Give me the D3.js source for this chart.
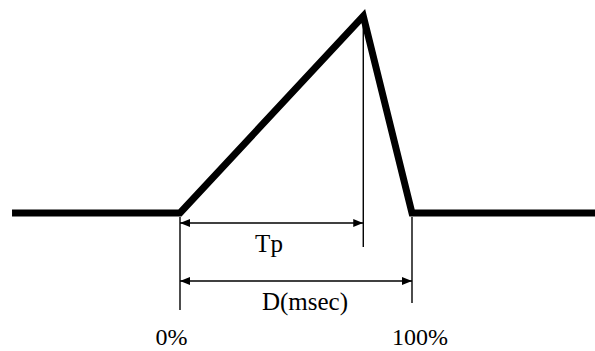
<!DOCTYPE html>
<html><head><meta charset="utf-8">
<script src="https://cdn.jsdelivr.net/npm/d3@7"></script>
<style>body{margin:0;background:#fff}svg{display:block}</style>
</head><body>
<script>
// waveform: time in % of D, amplitude normalized
const waveTime = [-72.4, 0, 79.0, 100, 179];
const waveAmp  = [0, 0, 1, 0, 0];
const tpPercent = 79.0;
const dPercent = 100;
const tickLabels = ["0%", "100%"];
const tickPos = [0, 100];
const dimLabels = ["Tp", "D(msec)"];

const W = 595, H = 351;
const svg = d3.select("body").append("svg").attr("width", W).attr("height", H);
const x = d3.scaleLinear().domain([0, 100]).range([180, 412]);
const y = d3.scaleLinear().domain([0, 1]).range([213, 16]);

const defs = svg.append("defs");
defs.append("marker").attr("id","ah").attr("viewBox","0 0 10 8")
  .attr("refX",10).attr("refY",4).attr("markerWidth",10).attr("markerHeight",8)
  .attr("markerUnits","userSpaceOnUse").attr("orient","auto-start-reverse")
  .append("path").attr("d","M0,0L10,4L0,8Z").attr("fill","#000");

// vertical reference lines
const vlines = [
  {t: 0, y1: 217, y2: 310},
  {t: tpPercent, y1: y(1), y2: 247},
  {t: dPercent, y1: 217, y2: 303}
];
svg.selectAll("line.v").data(vlines).join("line").attr("class","v")
  .attr("x1", d => x(d.t)).attr("x2", d => x(d.t))
  .attr("y1", d => d.y1).attr("y2", d => d.y2)
  .attr("stroke","#000").attr("stroke-width",1.4);

// waveform
const pts = waveTime.map((t,i)=>[t, waveAmp[i]]);
svg.append("path").datum(pts)
  .attr("d", d3.line().x(d=>x(d[0])).y(d=>y(d[1])))
  .attr("fill","none").attr("stroke","#000").attr("stroke-width",7)
  .attr("stroke-linejoin","miter").attr("stroke-miterlimit",4);

// dimension arrows
const arrows = [
  {t1: 0, t2: tpPercent, yy: 223, label: dimLabels[0], lx: 269, ly: 252},
  {t1: 0, t2: dPercent, yy: 281, label: dimLabels[1], lx: 305, ly: 310}
];
svg.selectAll("line.a").data(arrows).join("line").attr("class","a")
  .attr("x1", d => x(d.t1)).attr("x2", d => x(d.t2))
  .attr("y1", d => d.yy).attr("y2", d => d.yy)
  .attr("stroke","#000").attr("stroke-width",1.4)
  .attr("marker-start","url(#ah)").attr("marker-end","url(#ah)");
svg.selectAll("text.dim").data(arrows).join("text").attr("class","dim")
  .attr("x", d => d.lx).attr("y", d => d.ly)
  .attr("text-anchor","middle")
  .attr("font-family","'Liberation Serif', 'Times New Roman', serif")
  .attr("font-size",25).attr("fill","#000").text(d => d.label);

// tick labels
const tickOffsets = [-8.5, 8];
svg.selectAll("text.tick").data(tickLabels).join("text").attr("class","tick")
  .attr("x", (d,i) => x(tickPos[i]) + tickOffsets[i]).attr("y", 345)
  .attr("text-anchor","middle")
  .attr("font-family","'Liberation Serif', 'Times New Roman', serif")
  .attr("font-size",24).attr("fill","#000").text(d => d);
</script>
</body></html>
